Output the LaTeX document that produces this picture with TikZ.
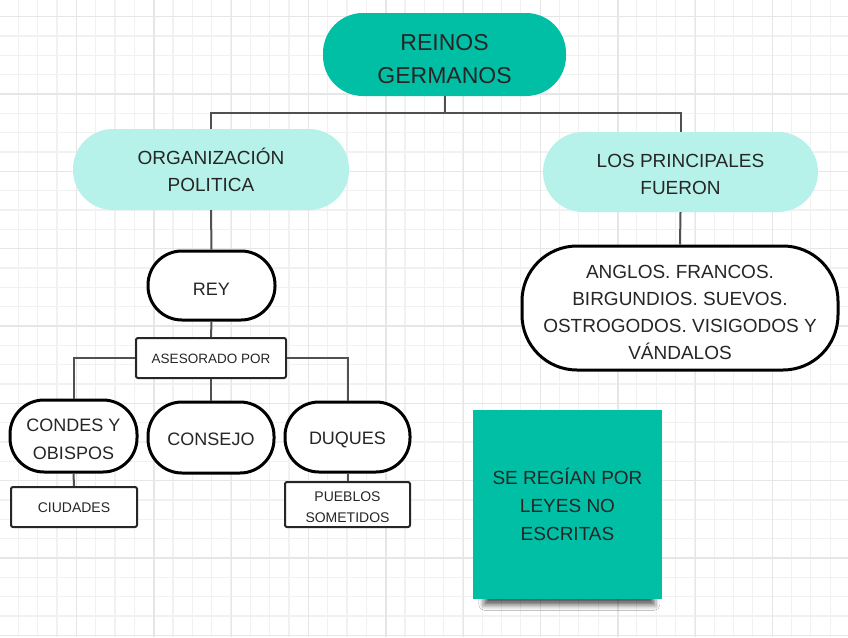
\documentclass[tikz,border=0pt]{standalone}
\usepackage{fontspec}
\setmainfont{Liberation Sans}
\usetikzlibrary{shadows.blur}
\definecolor{germteal}{HTML}{00BFA5}
\definecolor{germmint}{HTML}{B6F2EA}
\definecolor{ink}{HTML}{262626}
\definecolor{linegrey}{HTML}{505050}
\definecolor{gridminor}{HTML}{F1F1F1}
\definecolor{gridmajor}{HTML}{E6E6E6}
\newcommand{\padline}[1]{\rule{0pt}{#1}}
\tikzset{
  every node/.style={text=ink, align=center, inner sep=0pt},
  headpill/.style={fill=germteal, rounded corners=40pt, minimum width=243pt, minimum height=83pt, font=\fontsize{23}{33}\selectfont},
  softpill/.style={fill=germmint, rounded corners=40pt, minimum width=276pt, minimum height=81pt, font=\fontsize{19}{27}\selectfont},
  blackpill/.style={draw=black, line width=3pt, fill=white, rounded corners=34pt, minimum width=126pt, minimum height=70pt, font=\fontsize{18}{28}\selectfont},
  oneline/.style={text height=15pt, text depth=0pt},
  smallbox/.style={draw=ink, line width=2pt, fill=white, rounded corners=2pt, minimum width=126pt, minimum height=40pt, font=\fontsize{14}{21}\selectfont},
  link/.style={draw=linegrey, line width=2pt}
}
\begin{document}
\begin{tikzpicture}[x=1pt,y=-1pt]
\useasboundingbox[fill=white] (0,0) rectangle (848,637);
\foreach \i in {0,...,43}
  \draw[gridminor, line width=1.2pt] ({18.3+19.33*\i},0) -- ({18.3+19.33*\i},637);
\foreach \i in {0,...,32}
  \draw[gridminor, line width=1.2pt] (0,{16.7+19.33*\i}) -- (848,{16.7+19.33*\i});
\foreach \i in {1,...,10}
  \draw[gridmajor, line width=1.3pt] ({-0.6+77.33*\i},0) -- ({-0.6+77.33*\i},637);
\foreach \i in {0,...,8}
  \draw[gridmajor, line width=1.3pt] (0,{16.7+77.33*\i}) -- (848,{16.7+77.33*\i});

\node[headpill] (reinos) at (444.5,54.5) {\padline{24.5pt}REINOS\\GERMANOS};
\node[softpill] (organizacion) at (211,169.5) {ORGANIZACIÓN\\POLITICA};
\node[softpill, minimum width=275pt, minimum height=80pt] (principales) at (680.5,172) {\padline{18.6pt}LOS PRINCIPALES\\FUERON};
\node[blackpill, oneline, text height=19pt, minimum width=127pt, minimum height=69pt] (rey) at (211.5,285.5) {REY};
\node[smallbox, oneline, text height=11pt, minimum width=150pt, font=\fontsize{13.5}{18}\selectfont] (asesorado) at (211,358) {ASESORADO POR};
\node[blackpill, minimum width=127pt, minimum height=72pt] (condes) at (73.5,436) {\padline{19pt}CONDES Y\\OBISPOS};
\node[blackpill, oneline, minimum height=71pt] (consejo) at (211,437.5) {CONSEJO};
\node[blackpill, oneline, minimum width=125pt] (duques) at (347.5,437) {DUQUES};
\node[smallbox, oneline, text height=11pt] (ciudades) at (74,507) {CIUDADES};
\node[smallbox, minimum width=125pt, minimum height=45pt] (pueblos) at (347.5,504.5) {\padline{16pt}PUEBLOS\\SOMETIDOS};
\node[blackpill, rounded corners=55pt, minimum width=316pt, minimum height=124pt, font=\fontsize{19}{27}\selectfont] (germanicos) at (680,308) {\padline{21.6pt}ANGLOS. FRANCOS.\\BIRGUNDIOS. SUEVOS.\\OSTROGODOS. VISIGODOS Y\\VÁNDALOS};
\node[fill=germteal, minimum size=189pt, font=\fontsize{19}{28}\selectfont,
  blur shadow={shadow xshift=2pt, shadow yshift=-17pt, shadow scale=0.9, shadow blur radius=6pt, shadow opacity=65}] (leyes) at (567.5,504.5) {SE REGÍAN POR\\LEYES NO\\ESCRITAS};

\draw[link] (reinos.south) -- ++(0,17) coordinate (split);
\draw[link] (split) -| (organizacion.north);
\draw[link] (split) -| (principales.north);
\draw[link] (organizacion.south) -- (rey.north);
\draw[link] (rey.south) -- (asesorado.north);
\draw[link] (asesorado.west) -| (condes.north);
\draw[link] (asesorado.east) -| (duques.north);
\draw[link] (asesorado.south) -- (consejo.north);
\draw[link] (condes.south) -- (ciudades.north);
\draw[link] (duques.south) -- (pueblos.north);
\draw[link] (principales.south) -- (germanicos.north);
\end{tikzpicture}
\end{document}
